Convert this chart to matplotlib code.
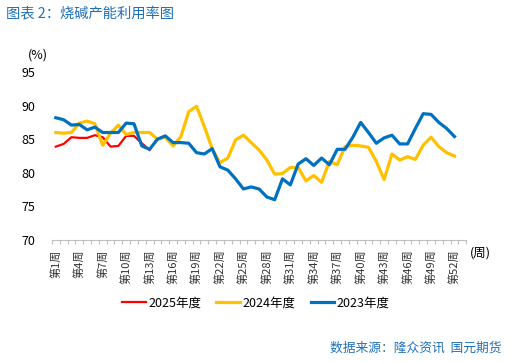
import numpy as np
import matplotlib
matplotlib.use("Agg")
import matplotlib.pyplot as plt

plt.rcParams['font.family'] = ['Noto Sans CJK SC', 'DejaVu Sans']

# weekly capacity utilisation (%)
weeks = list(range(1, 54))
y2025 = [83.9, 84.3, 85.3, 85.2, 85.2, 85.6, 85.3, 83.9, 84.0, 85.5, 85.5, 84.4, 83.4]
y2024 = [86.0, 85.9, 86.0, 87.4, 87.7, 87.3, 84.1, 85.9, 87.1, 85.7,
         86.0, 86.0, 86.0, 85.0, 85.3, 84.0, 85.4, 89.1, 89.9, 86.9,
         83.6, 81.5, 82.2, 84.9, 85.6, 84.5, 83.4, 81.9, 79.8, 79.9,
         80.8, 80.8, 78.8, 79.6, 78.6, 81.7, 81.2, 83.9, 84.1, 84.0,
         83.8, 81.7, 79.0, 82.8, 81.9, 82.4, 82.0, 84.1, 85.3, 83.9,
         83.0, 82.5]
y2023 = [88.2, 87.9, 87.1, 87.2, 86.4, 86.8, 86.0, 86.0, 86.0, 87.4,
         87.3, 84.0, 83.5, 85.0, 85.5, 84.5, 84.5, 84.4, 83.0, 82.8,
         83.6, 80.9, 80.4, 79.1, 77.6, 77.9, 77.6, 76.4, 76.0, 79.1,
         78.2, 81.3, 82.1, 81.1, 82.2, 81.2, 83.5, 83.5, 85.3, 87.5,
         86.0, 84.4, 85.2, 85.6, 84.3, 84.3, 86.6, 88.8, 88.7, 87.5,
         86.6, 85.4]
tick_weeks = list(range(1, 53, 3))
tick_labels = ['第%d周' % w for w in tick_weeks]

fig = plt.figure(figsize=(5.14, 3.62), dpi=100)
ax = fig.add_axes([0.101, 0.337, 0.806, 0.464])

x = np.arange(len(weeks))
ax.plot(x[:len(y2025)], y2025, color='#FF0000', lw=1.6, label='2025年度')
ax.plot(x[:len(y2024)], y2024, color='#FFC000', lw=2.3, label='2024年度')
ax.plot(x[:len(y2023)], y2023, color='#0070C0', lw=2.3, label='2023年度')

ax.set_xlim(-0.5, len(weeks) - 0.5)
ax.set_ylim(70, 95)
ax.set_yticks([70, 75, 80, 85, 90, 95])
ax.tick_params(axis='y', length=0, labelsize=9, pad=12)

ax.set_xticks([w - 1 for w in tick_weeks])
ax.set_xticklabels(tick_labels, rotation=90, fontsize=8, color='#333333')
ax.set_xticks(np.arange(-0.5, len(weeks), 1), minor=True)
ax.tick_params(axis='x', which='major', length=0, pad=7)
ax.tick_params(axis='x', which='minor', length=3, color='#BFBFBF', width=0.8)

for s in ['top', 'right', 'left']:
    ax.spines[s].set_visible(False)
ax.spines['bottom'].set_color('#BFBFBF')
ax.spines['bottom'].set_linewidth(0.8)

fig.text(38 / 514, 1 - 55 / 362, '(%)', fontsize=9, ha='center', va='center')
fig.text(480 / 514, 1 - 253 / 362, '(周)', fontsize=9, ha='center', va='center')

fig.text(6 / 514, 1 - 13 / 362, '图表 2：烧碱产能利用率图', fontsize=10.3,
         color='#1F70B8', ha='left', va='center')
fig.text(502 / 514, 1 - 348 / 362, '数据来源：隆众资讯  国元期货', fontsize=9.2,
         color='#1F70B8', ha='right', va='center')

fig.legend(loc='center', bbox_to_anchor=(256 / 514, 1 - 303 / 362), ncol=3,
           frameon=False, fontsize=9, handlelength=1.9, handletextpad=0.2,
           columnspacing=1.2)

fig.savefig('out.png', dpi=100)
